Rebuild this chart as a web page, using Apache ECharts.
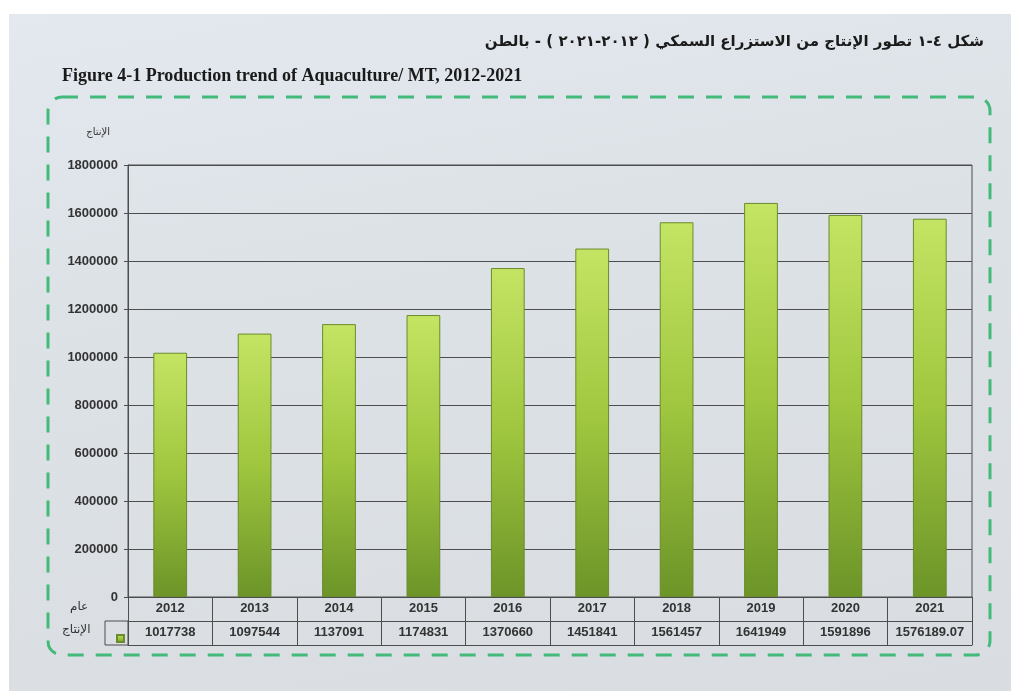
<!DOCTYPE html>
<html>
<head>
<meta charset="utf-8">
<script src="https://cdn.jsdelivr.net/npm/echarts@6/dist/echarts.min.js"></script>
<style>
html,body{margin:0;padding:0;background:#fff;}
#bg{position:absolute;left:9px;top:14px;width:1002px;height:677px;
background:linear-gradient(170deg,#e3e9ef 0%,#dde2e7 35%,#d9dde2 100%);}
#c{position:absolute;left:0;top:0;width:1011px;height:691px;}
</style>
</head>
<body>
<div id="bg"></div>
<div id="c"></div>
<script>
const years = ['2012','2013','2014','2015','2016','2017','2018','2019','2020','2021'];
const production = [1017738,1097544,1137091,1174831,1370660,1451841,1561457,1641949,1591896,1576189.07];
const valueLabels = ['1017738','1097544','1137091','1174831','1370660','1451841','1561457','1641949','1591896','1576189.07'];
const titleAr = 'شكل ٤-١ تطور الإنتاج من الاستزراع السمكي ( ٢٠١٢-٢٠٢١ ) - بالطن';
const titleEn = 'Figure 4-1 Production trend of Aquaculture/ MT, 2012-2021';
const yName = 'الإنتاج';
const rowYear = 'عام';
const rowProd = 'الإنتاج';

const chart = echarts.init(document.getElementById('c'), null, {renderer:'canvas'});
const lineCol = '#4d4d4d';
const lblFont = '"Liberation Sans", sans-serif';
const option = {
  backgroundColor: 'transparent',
  animation: false,
  grid: {left:128, right:39, top:165, bottom:94, show:true, borderColor:lineCol, borderWidth:1, backgroundColor:'rgba(0,0,0,0)'},
  legend: {show:true, left:111, top:629, itemWidth:7, itemHeight:7, icon:'rect', formatter:()=>'', data:['p'], selectedMode:false},
  graphic: [
    {type:'rect', shape:{x:48, y:97, width:942, height:558, r:14}, style:{fill:'none', stroke:'#43b97a', lineWidth:3, lineDash:[16,12]}, z:-1},
    {type:'text', right:27, top:35, style:{text:titleAr, font:'bold 15px "DejaVu Sans", sans-serif', fill:'#1a1a1a'}},
    {type:'text', left:62, top:67, style:{text:titleEn, font:'bold 18px "Liberation Serif", serif', fill:'#1a1a1a'}},
    {type:'rect', shape:{x:105, y:621, width:23, height:24}, style:{fill:'none', stroke:lineCol, lineWidth:1}},
    {type:'text', left:70, top:601, style:{text:rowYear, font:'12px "DejaVu Sans", sans-serif', fill:'#333'}},
    {type:'text', left:62, top:624, style:{text:rowProd, font:'12px "DejaVu Sans", sans-serif', fill:'#333'}}
  ],
  xAxis: [
    {type:'category', data:years, position:'bottom', boundaryGap:true,
     axisLine:{show:true, lineStyle:{color:lineCol}},
     axisTick:{show:true, length:48, interval:0, lineStyle:{color:lineCol}},
     axisLabel:{show:true, margin:5, interval:0, color:'#333', fontSize:13, fontWeight:'bold', fontFamily:lblFont}},
    {type:'category', data:valueLabels, position:'bottom', offset:24, boundaryGap:true,
     axisLine:{show:true, lineStyle:{color:lineCol}},
     axisTick:{show:false},
     axisLabel:{show:true, margin:5, interval:0, color:'#333', fontSize:13, fontWeight:'bold', fontFamily:lblFont}},
    {type:'category', data:years, position:'bottom', offset:48, boundaryGap:true,
     axisLine:{show:true, lineStyle:{color:lineCol}},
     axisTick:{show:false}, axisLabel:{show:false}}
  ],
  yAxis: {
    type:'value', min:0, max:1800000, interval:200000,
    name:yName, nameLocation:'end', nameGap:28,
    nameTextStyle:{color:'#333', fontSize:10, align:'right', padding:[0,18,0,0], fontFamily:'"DejaVu Sans", sans-serif'},
    axisLine:{show:true, lineStyle:{color:lineCol}},
    axisTick:{show:true, length:4, lineStyle:{color:lineCol}},
    axisLabel:{color:'#333', fontSize:13, fontWeight:'bold', margin:10, fontFamily:lblFont, formatter:v=>String(v)},
    splitLine:{show:true, lineStyle:{color:lineCol, width:1}}
  },
  series: [{
    name:'p', type:'bar', data:production, xAxisIndex:0, barWidth:'40%',
    itemStyle:{
      color: new echarts.graphic.LinearGradient(0,0,0,1,[
        {offset:0, color:'#c4e464'},{offset:0.5, color:'#9fc63e'},{offset:1, color:'#6c9428'}]),
      borderColor:'#6a8c2c', borderWidth:1
    }
  }]
};
chart.setOption(option);
</script>
</body>
</html>
